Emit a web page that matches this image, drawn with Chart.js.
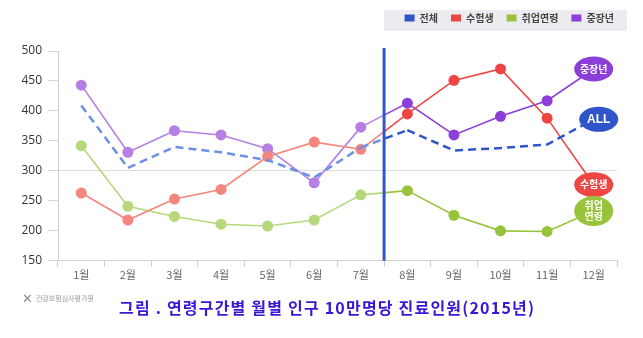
<!DOCTYPE html>
<html><head><meta charset="utf-8">
<script src="https://cdn.jsdelivr.net/npm/chart.js@4"></script>
<style>
html,body{margin:0;padding:0;background:#fff;}
#wrap{position:relative;width:643px;height:338px;}
#logo{position:absolute;left:22px;top:294px;font-family:"Noto Sans CJK KR";color:#9a9a9a;font-size:7px;line-height:8px;}
#logo b{font-size:13px;color:#8a8a8a;font-family:"DejaVu Sans";vertical-align:middle;margin-right:3px;}
#title{position:absolute;left:119px;top:296px;font-family:"Noto Sans CJK KR";font-weight:bold;font-size:16px;letter-spacing:1.2px;color:#3a16d6;white-space:nowrap;line-height:22px;}
</style></head>
<body><div id="wrap"><canvas id="c" width="643" height="338"></canvas>
<div id="logo"><b>✕</b>건강보험심사평가원</div>
<div id="title">그림 . 연령구간별 월별 인구 10만명당 진료인원(2015년)</div></div>
<script>
const labels = ['1월','2월','3월','4월','5월','6월','7월','8월','9월','10월','11월','12월'];
const seriesNames = ['전체','수험생','취업연령','중장년'];
const allValues  = [409, 305, 340, 331, 318, 289, 339, 368, 334, 338, 344, 386];
const examValues = [263, 218, 253, 269, 324, 348, 336, 395, 451, 470, 388, 277];
const jobValues  = [342, 241, 224, 211, 208, 218, 260, 267, 226, 200, 199, 233];
const midValues  = [443, 331, 367, 360, 337, 280, 373, 413, 360, 391, 417, 470];
const bubbleTexts = [['ALL'], ['수험생'], ['취업','연령'], ['중장년']];

const strong = ['#2f55c9','#ee4545','#97c43c','#8b3fd8'];
const faded  = ['#6c90e3','#f5867f','#b5d87b','#b57fe3'];
const splitIndex = 7;

function segColor(ctx, i){
  const k = ctx.p0DataIndex;
  if (k < splitIndex - 1) return faded[i];
  if (k >= splitIndex) return strong[i];
  const g = ctx.chart.ctx.createLinearGradient(ctx.p0.x,0,ctx.p1.x,0);
  g.addColorStop(0,faded[i]); g.addColorStop(0.5,faded[i]);
  g.addColorStop(0.5,strong[i]); g.addColorStop(1,strong[i]);
  return g;
}
function mk(i, data, dashed){
  return {
    label: seriesNames[i], data,
    borderColor: strong[i], backgroundColor: strong[i],
    borderWidth: dashed ? 2.5 : 1.6,
    borderDash: dashed ? [8,5] : [],
    tension: 0,
    pointRadius: ctx => (dashed || ctx.dataIndex === labels.length-1) ? 0 : 5.5,
    pointHoverRadius: 0,
    pointBorderWidth: 0,
    pointBackgroundColor: ctx => ctx.dataIndex < splitIndex ? faded[i] : strong[i],
    segment: { borderColor: ctx => segColor(ctx, i) }
  };
}

const legendSpace = {
  id:'legendSpace',
  beforeUpdate(chart){
    const lg = chart.legend;
    if (!lg || lg._wrapped) return;
    const f = lg.fit.bind(lg);
    lg.fit = function(){ f(); this.height += 18; };
    lg._wrapped = true;
  },
  afterLayout(chart){
    const lg = chart.legend; if (!lg) return;
    lg.left += 10; lg.right += 10;
  }
};
const legendBg = {
  id:'legendBg',
  beforeDraw(chart){
    const c = chart.ctx; c.save(); c.fillStyle='#ececf0';
    c.fillRect(384, 10, 243, 21); c.restore();
  }
};
const overlay = {
  id:'overlay',
  afterDatasetsDraw(chart){
    const c = chart.ctx, xs = chart.scales.x, ca = chart.chartArea;
    const xm = (xs.getPixelForValue(splitIndex-1) + xs.getPixelForValue(splitIndex))/2;
    c.save();
    c.strokeStyle = '#3456c9'; c.lineWidth = 3;
    c.beginPath(); c.moveTo(xm, ca.top - 3); c.lineTo(xm, ca.bottom); c.stroke();
    chart.data.datasets.forEach((ds, i) => {
      const p = chart.getDatasetMeta(i).data[labels.length-1];
      const lines = bubbleTexts[i];
      const x = p.x + (i === 0 ? 5 : 0), y = p.y;
      const rx = 19.5, ry = lines.length > 1 ? 15 : 12.5;
      c.fillStyle = strong[i];
      c.beginPath(); c.ellipse(x, y, rx, ry, 0, 0, Math.PI*2); c.fill();
      c.fillStyle = '#fff'; c.textAlign = 'center'; c.textBaseline = 'middle';
      c.font = (i === 0 ? 'bold 12px "Liberation Sans"' : 'bold 10px "Noto Sans CJK KR"');
      lines.forEach((t, j) => c.fillText(t, x, y + (j - (lines.length-1)/2) * 11));
    });
    c.restore();
  }
};

new Chart(document.getElementById('c'), {
  type: 'line',
  data: { labels, datasets: [
    mk(0, allValues, true), mk(1, examValues), mk(2, jobValues), mk(3, midValues)
  ]},
  options: {
    responsive: false, animation: false,
    layout: { padding: { left: 0, right: 26, top: 0, bottom: 56 } },
    plugins: {
      tooltip: { enabled: false },
      title: { display: false },
      legend: {
        position: 'top', align: 'end',
        labels: {
          boxWidth: 10, boxHeight: 7, padding: 13, color: '#444',
          font: { family: '"Noto Sans CJK KR"', size: 10, weight: 'bold' },
          generateLabels: chart => chart.data.datasets.map((d, i) => ({
            text: d.label, fillStyle: strong[i], strokeStyle: strong[i], lineWidth: 0,
            lineDash: [], hidden: false, datasetIndex: i, fontColor: '#444'
          }))
        }
      }
    },
    scales: {
      x: {
        offset: true,
        grid: { offset: true, drawOnChartArea: false, drawTicks: true, tickLength: 6, tickColor: '#cfcfcf' },
        border: { color: '#cfcfcf' },
        ticks: { color: '#666', font: { family: '"Noto Sans CJK KR"', size: 11 }, padding: 1, maxRotation: 0 }
      },
      y: {
        min: 150, max: 500,
        afterFit: s => { s.width = 58; },
        grid: { color: ctx => ctx.tick && ctx.tick.value === 300 ? '#dcdcdc' : 'rgba(0,0,0,0)', tickLength: 10, tickColor: '#d5d5d5' },
        border: { color: '#cfcfcf' },
        ticks: { stepSize: 50, color: '#333', padding: 6, font: { family: '"Open Sans"', size: 12 } }
      }
    }
  },
  plugins: [legendSpace, legendBg, overlay]
});
</script></body></html>
